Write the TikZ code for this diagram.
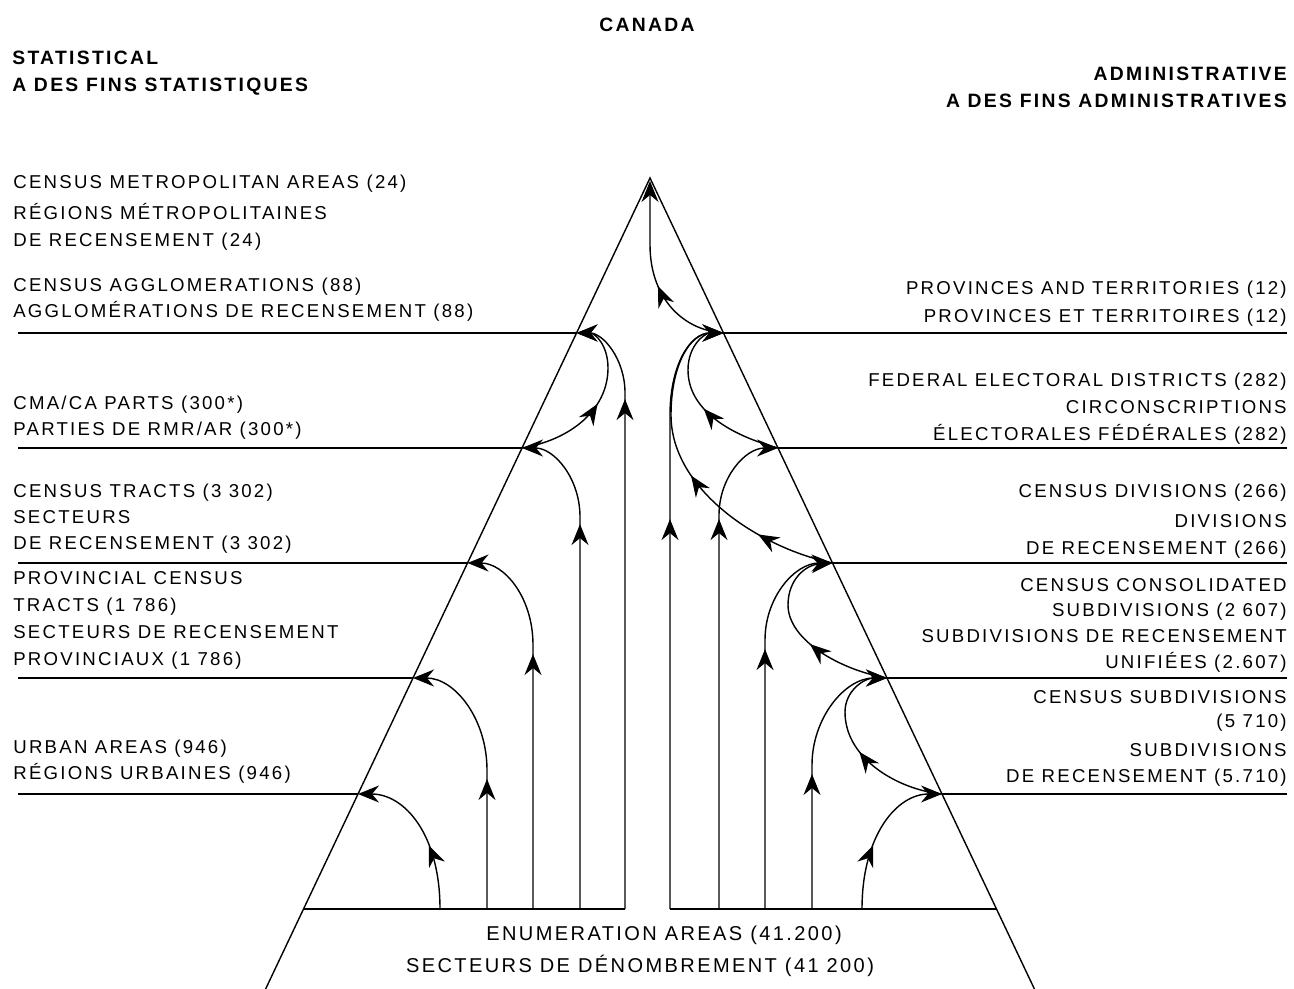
\documentclass[tikz,border=0pt]{standalone}
\usepackage{fontspec}
\setmainfont{Liberation Sans}[LetterSpace=12]
\usetikzlibrary{arrows.meta,decorations.markings}

\begin{document}
\begin{tikzpicture}[x=0.02cm, y=-0.02cm,
    lbl/.style={font=\fontsize{10.6}{12}\selectfont, inner sep=0pt},
    hdr/.style={font=\fontsize{11}{13}\selectfont\bfseries, inner sep=0pt},
    ealbl/.style={font=\fontsize{11.4}{13}\selectfont, inner sep=0pt},
    rule/.style={line width=0.8pt},
    link/.style={line width=0.8pt, -{Stealth[length=4.2mm, width=3.4mm, inset=1.4mm]}},
    mid/.style={postaction={decorate, decoration={markings,
      mark=at position #1 with {\arrow{Stealth[length=4.2mm, width=3.4mm, inset=1.4mm]}}}}},
  ]
  \useasboundingbox (0,0) rectangle (1294,989);

  % Headers
  \node[hdr] (canada-t) at (647,25) {CANADA};
  \node[hdr, anchor=base west] (stat1) at (12,65) {STATISTICAL};
  \node[hdr, anchor=base west] (stat2) at (12,92) {A DES FINS STATISTIQUES};
  \node[hdr, anchor=base east] (adm1) at (1287,81) {ADMINISTRATIVE};
  \node[hdr, anchor=base east] (adm2) at (1287,108) {A DES FINS ADMINISTRATIVES};

  % Triangle and levels
  \coordinate (canada) at (650,181);
  \coordinate (ca) at (576.5,333);
  \coordinate (cma) at (522,448);
  \coordinate (ct) at (467.5,563);
  \coordinate (pct) at (413,678);
  \coordinate (ua) at (358,794);
  \coordinate (pt) at (723.5,333);
  \coordinate (fed) at (778,448);
  \coordinate (cd) at (832.5,563);
  \coordinate (ccs) at (887,678);
  \coordinate (csd) at (942,794);
  \draw[rule, line join=miter] (265.6,989) -- (650,178) -- (1034.4,989);
  \foreach \p/\y in {ca/333, cma/448, ct/563, pct/678, ua/794}
    \draw[rule] (18,\y) -- (\p);
  \foreach \p/\y in {pt/333, fed/448, cd/563, ccs/678, csd/794}
    \draw[rule] (\p) -- (1287,\y);

  % Enumeration areas
  \coordinate (ea-ua) at (440,909);
  \coordinate (ea-pct) at (487,909);
  \coordinate (ea-ct) at (533,909);
  \coordinate (ea-cma) at (580,909);
  \coordinate (ea-ca) at (625,909);
  \coordinate (ea-pt) at (670,909);
  \coordinate (ea-fed) at (719,909);
  \coordinate (ea-cd) at (765,909);
  \coordinate (ea-ccs) at (812,909);
  \coordinate (ea-csd) at (862,909);
  \draw[rule] (303.5,909) -- (ea-ca);
  \draw[rule] (ea-pt) -- (996.5,909);
  \node[ealbl] (ea-en) at (664,935) {ENUMERATION AREAS (41.200)};
  \node[ealbl] (ea-fr) at (640,966) {SECTEURS DE DÉNOMBREMENT (41 200)};

  % Statistical labels
  \foreach \y/\t in {189/{CENSUS METROPOLITAN AREAS (24)}, 220/{RÉGIONS MÉTROPOLITAINES},
      247/{DE RECENSEMENT (24)}, 292/{CENSUS AGGLOMERATIONS (88)},
      318/{AGGLOMÉRATIONS DE RECENSEMENT (88)}, 410/{CMA/CA PARTS (300*)},
      436/{PARTIES DE RMR/AR (300*)}, 498/{CENSUS TRACTS (3 302)}, 523/{SECTEURS},
      549/{DE RECENSEMENT (3 302)}, 584/{PROVINCIAL CENSUS}, 611/{TRACTS (1 786)},
      638/{SECTEURS DE RECENSEMENT}, 665/{PROVINCIAUX (1 786)},
      753/{URBAN AREAS (946)}, 779/{RÉGIONS URBAINES (946)}}
    \node[lbl, anchor=base west] (sl\y) at (13,\y) {\t};

  % Administrative labels
  \foreach \y/\t in {295/{PROVINCES AND TERRITORIES (12)}, 323/{PROVINCES ET TERRITOIRES (12)},
      387/{FEDERAL ELECTORAL DISTRICTS (282)}, 414/{CIRCONSCRIPTIONS},
      440/{ÉLECTORALES FÉDÉRALES (282)}, 498/{CENSUS DIVISIONS (266)}, 527/{DIVISIONS},
      554/{DE RECENSEMENT (266)}, 591/{CENSUS CONSOLIDATED}, 616/{SUBDIVISIONS (2 607)},
      642/{SUBDIVISIONS DE RECENSEMENT}, 668/{UNIFIÉES (2.607)},
      703/{CENSUS SUBDIVISIONS}, 727/{(5 710)}, 756/{SUBDIVISIONS},
      782/{DE RECENSEMENT (5.710)}}
    \node[lbl, anchor=base east] (al\y) at (1287,\y) {\t};

  % Statistical links
  \draw[link, mid=1.3cm] (ea-ua) .. controls (440,835) and (405,794) .. (ua);
  \draw[link, mid=2.6cm] (ea-pct) -- (487,770) .. controls (487,719) and (455,678) .. (pct);
  \draw[link, mid=5.1cm] (ea-ct) -- (533,645) .. controls (533,597) and (504,563) .. (ct);
  \draw[link, mid=7.7cm] (ea-cma) -- (580,517) .. controls (580,478) and (554,448) .. (cma);
  \draw[link, mid=10.2cm] (ea-ca) -- (625,393) .. controls (625,359) and (603,333) .. (ca);
  \draw[link, mid=1.8cm] (cma) .. controls (570,440) and (608,410) .. (608,368)
    .. controls (608,345) and (595,333) .. (ca);

  % Administrative links
  \draw[link, mid=1.3cm] (ea-csd) .. controls (862,835) and (897,794) .. (csd);
  \draw[link, mid=2.7cm] (ea-ccs) -- (812,765) .. controls (812,718) and (845,678) .. (ccs);
  \draw[link, mid=5.2cm] (ea-cd) -- (765,640) .. controls (765,597) and (795,563) .. (cd);
  \draw[link, mid=7.8cm] (ea-fed) -- (719,515) .. controls (719,478) and (745,448) .. (fed);
  \draw[link, mid=7.8cm] (ea-pt) -- (670,415) .. controls (670,365) and (690,333) .. (pt);
  \draw[link, mid=1.9cm] (csd) .. controls (900,790) and (845,760) .. (845,712)
    .. controls (845,690) and (865,678) .. (ccs);
  \draw[link, mid=1.7cm] (ccs) .. controls (840,670) and (788,640) .. (788,605)
    .. controls (788,580) and (805,565) .. (cd);
  \draw[link, mid=1.7cm] (fed) .. controls (730,435) and (688,410) .. (688,370)
    .. controls (688,345) and (705,333) .. (pt);
  \draw[link, mid=1.6cm, mid=3.4cm] (cd) .. controls (760,548) and (671,490) .. (671,415)
    .. controls (671,365) and (690,333) .. (pt);
  \draw[link, mid=1.7cm] (pt) .. controls (680,330) and (650,295) .. (650,245) -- (canada);
\end{tikzpicture}
\end{document}
